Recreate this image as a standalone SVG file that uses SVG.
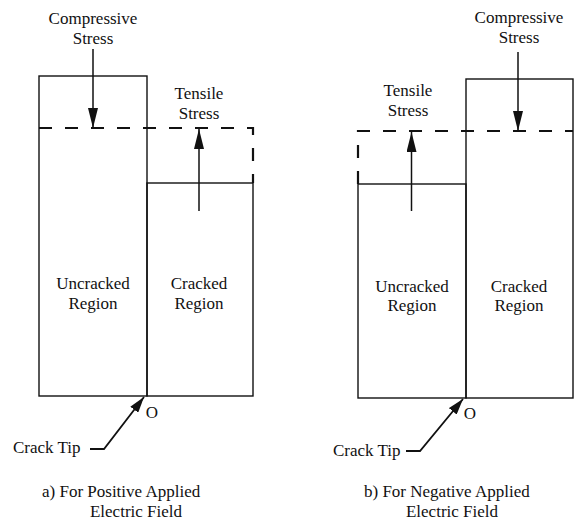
<svg xmlns="http://www.w3.org/2000/svg" width="578" height="521" viewBox="0 0 578 521">
  <style>
    .box { fill: none; stroke: #111; stroke-width: 1.4; }
    .dash { fill: none; stroke: #111; stroke-width: 2.2; stroke-dasharray: 13 13; }
    .stress { fill: none; stroke: #111; stroke-width: 1.5; marker-end: url(#head); }
    .tip { fill: none; stroke: #111; stroke-width: 1.8; marker-end: url(#tiphead); }
    text { font-family: "Liberation Serif", "Times New Roman", "DejaVu Serif", serif; font-size: 17px; fill: #111; }
    .c { text-anchor: middle; }
  </style>
  <defs>
    <marker id="head" viewBox="0 0 20 10" refX="20" refY="5" markerWidth="20" markerHeight="10" markerUnits="userSpaceOnUse" orient="auto">
      <path d="M0,0 L20,5 L0,10 z" fill="#111"/>
    </marker>
    <marker id="tiphead" viewBox="0 0 16 10" refX="16" refY="5" markerWidth="16" markerHeight="10" markerUnits="userSpaceOnUse" orient="auto">
      <path d="M0,0 L16,5 L0,10 z" fill="#111"/>
    </marker>
  </defs>

  <!-- (a) positive applied field -->
  <g id="a-uncracked">
    <rect class="box" x="39" y="76" width="108" height="320"/>
    <text class="c" x="93" y="289">Uncracked</text>
    <text class="c" x="93" y="309">Region</text>
  </g>
  <g id="a-cracked">
    <rect class="box" x="147" y="183" width="106" height="213"/>
    <text class="c" x="199" y="289">Cracked</text>
    <text class="c" x="199" y="309">Region</text>
  </g>
  <g id="a-neutral-level">
    <path class="dash" d="M39,128 H253 V183"/>
  </g>
  <g id="a-compressive-label">
    <text class="c" x="93" y="24">Compressive</text>
    <text class="c" x="93" y="44">Stress</text>
  </g>
  <g id="a-tensile-label">
    <text class="c" x="199" y="99">Tensile</text>
    <text class="c" x="199" y="119">Stress</text>
  </g>
  <g id="a-crack-tip">
    <text x="152" y="418" class="c">O</text>
    <text x="13" y="453">Crack Tip</text>
  </g>
  <g id="a-caption">
    <text x="42" y="497">a) For Positive Applied</text>
    <text class="c" x="136" y="517">Electric Field</text>
  </g>

  <!-- (b) negative applied field -->
  <g id="b-uncracked">
    <rect class="box" x="358" y="184" width="108" height="214"/>
    <text class="c" x="412" y="292">Uncracked</text>
    <text class="c" x="412" y="311">Region</text>
  </g>
  <g id="b-cracked">
    <rect class="box" x="466" y="79" width="107" height="319"/>
    <text class="c" x="519" y="292">Cracked</text>
    <text class="c" x="519" y="311">Region</text>
  </g>
  <g id="b-neutral-level">
    <path class="dash" d="M358,184 V131 H573"/>
  </g>
  <g id="b-compressive-label">
    <text class="c" x="519" y="23">Compressive</text>
    <text class="c" x="519" y="43">Stress</text>
  </g>
  <g id="b-tensile-label">
    <text class="c" x="408" y="96">Tensile</text>
    <text class="c" x="408" y="116">Stress</text>
  </g>
  <g id="b-crack-tip">
    <text x="470" y="419" class="c">O</text>
    <text x="333" y="456">Crack Tip</text>
  </g>
  <g id="b-caption">
    <text x="364" y="497">b) For Negative Applied</text>
    <text class="c" x="452" y="517">Electric Field</text>
  </g>

  <!-- connectors: stress arrows and crack-tip pointers -->
  <g id="connectors">
    <line class="stress" x1="93" y1="49" x2="93" y2="128"/>
    <line class="stress" x1="199" y1="211" x2="199" y2="129"/>
    <line class="stress" x1="518" y1="52" x2="518" y2="131"/>
    <line class="stress" x1="411.5" y1="211" x2="411.5" y2="132"/>
    <polyline class="tip" points="90,449 104,449 144,397"/>
    <polyline class="tip" points="406,451 420,451 463,399"/>
  </g>
</svg>
